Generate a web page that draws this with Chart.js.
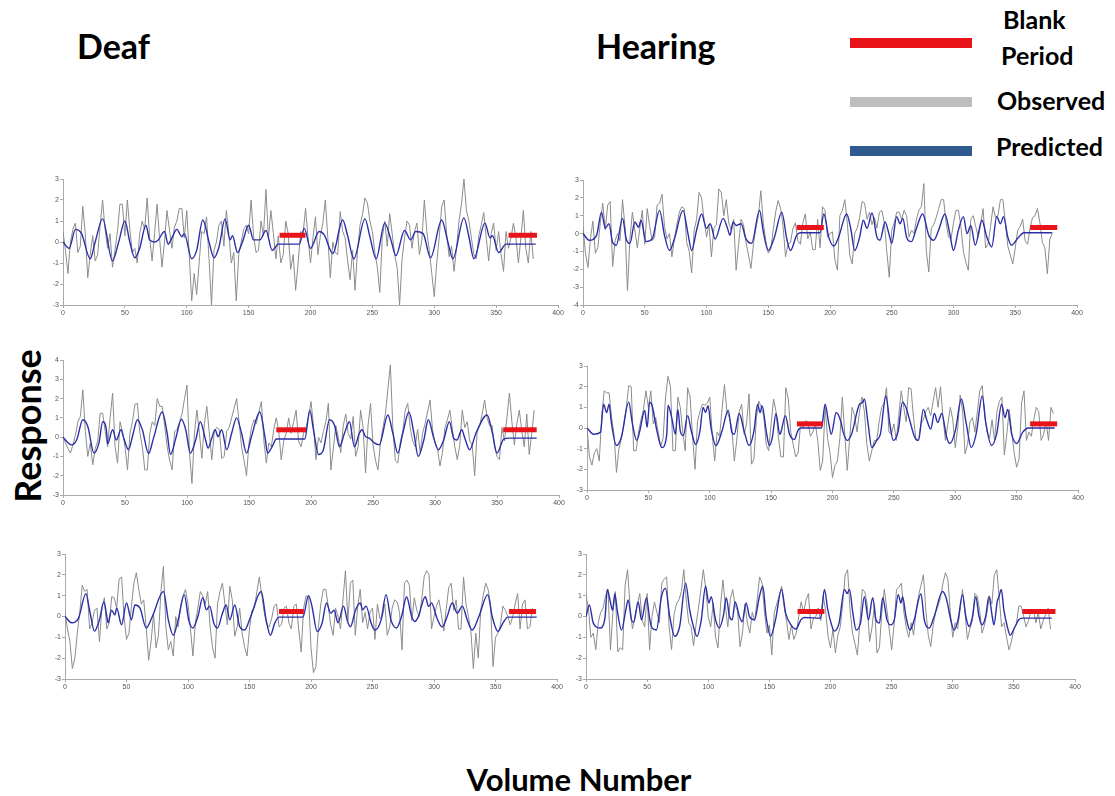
<!DOCTYPE html>
<html>
<head>
<meta charset="utf-8">
<script src="https://cdn.jsdelivr.net/npm/chart.js@4.4.1/dist/chart.umd.min.js"></script>
<style>
  body { margin: 0; background: #fff; width: 1115px; height: 796px; overflow: hidden; position: relative; font-family: Lato, "Open Sans", sans-serif; }
  .t { position: absolute; font-weight: bold; color: #000; white-space: nowrap; line-height: 1; }
  .sw { position: absolute; height: 10px; width: 122px; left: 850px; }
  canvas { position: absolute; }
</style>
</head>
<body>
<div class="t" style="left:77px;top:29px;font-size:34px">Deaf</div>
<div class="t" style="left:596px;top:29px;font-size:34px">Hearing</div>
<div class="t" style="left:-58px;top:408px;font-size:36px;transform:rotate(-90deg);width:170px;text-align:center">Response</div>
<div class="t" style="left:0;width:1158px;text-align:center;top:764px;font-size:31px">Volume Number</div>

<div class="sw" style="top:38px;background:#e8141a"></div>
<div class="sw" style="top:97px;background:#bdbdbd"></div>
<div class="sw" style="top:146px;background:#2f5a8e"></div>
<div class="t" style="left:1003px;top:7px;font-size:25px">Blank</div>
<div class="t" style="left:1001px;top:43px;font-size:25px">Period</div>
<div class="t" style="left:997px;top:88px;font-size:25px">Observed</div>
<div class="t" style="left:996px;top:134px;font-size:25px">Predicted</div>

<script>
// observed: values at volumes 0,4,...,380 and at 2,6,...,378
const volObs = Array.from({ length: 96 }, (_, i) => i * 4);
const volMid = Array.from({ length: 95 }, (_, i) => i * 4 + 2);
const xTicks = [0, 50, 100, 150, 200, 250, 300, 350, 400];

const obs1 = [0.5,-1.5,0.6,-0.5,1.7,-1.7,0.3,-0.6,2.0,-0.3,-1.2,0.5,1.8,2.0,-0.5,-1.0,1.0,2.1,-0.9,1.8,-1.2,1.5,-0.3,1.0,1.6,1.5,-2.8,-2.5,0.5,1.2,-3.0,0.0,1.0,1.5,-1.0,-2.8,0.0,0.8,2.0,-0.5,1.0,2.5,1.5,-0.8,-1.0,1.0,-1.3,-2.3,0.5,1.6,-1.0,1.2,0.3,2.0,-1.7,-0.5,1.45,0.2,-1.8,-2.3,0.8,2.1,1.0,-0.5,-2.4,1.0,1.35,-0.6,-3.0,0.2,0.8,0.5,-0.6,2.0,-0.4,-2.6,0.2,2.0,-0.7,-1.4,1.0,3.0,1.0,-0.6,0.3,1.4,-0.9,0.9,0.5,-1.4,-0.3,0.9,-1.0,1.5,-1.0,-0.8];
const obsMid1 = [-0.4,0.0,0.9,-0.2,0.4,-0.6,-0.9,0.8,0.6,0.4,-0.4,1.8,0.3,0.6,-0.3,0.4,0.6,0.2,0.4,0.2,0.0,0.6,0.7,1.6,0.2,-0.6,-1.5,-1.0,0.4,-0.8,-0.4,0.8,-0.2,0.4,-0.5,-0.6,0.6,0.4,0.3,-0.4,0.3,0.2,0.4,0.3,-0.6,0.4,-0.6,-1.0,0.4,0.2,0.2,-0.6,0.9,0.2,0.0,-0.6,0.5,-0.9,-0.4,-0.4,1.3,1.85,0.5,-1.2,0.2,-0.2,0.4,-1.2,-0.8,1.0,-0.3,0.9,0.1,0.5,-1.5,-1.0,1.7,0.4,-0.2,-0.3,1.8,1.5,0.2,-0.8,0.8,0.2,0.4,-0.4,-0.6,0.5,0.2,0.2,0.2,-0.3,0.5];
const obs2 = [0.4,-1.9,0.7,-0.8,1.7,1.6,-1.85,0.0,1.9,-3.2,1.2,-0.8,1.3,1.4,-0.4,1.6,2.2,-0.3,-1.3,0.5,1.5,-0.5,-2.2,0.8,2.0,-0.2,-1.3,0.5,2.3,1.9,0.2,-2.05,0.8,-0.5,-1.95,0.3,2.4,-0.4,-0.9,1.2,1.4,-1.3,-0.5,0.6,-0.6,1.1,0.1,-0.9,-0.8,1.3,0.0,-1.5,1.0,1.9,-1.2,0.0,0.9,1.7,1.2,0.9,1.2,0.6,-2.45,0.6,1.2,1.3,-0.2,0.0,1.3,2.8,-2.15,0.5,1.4,1.9,-0.2,0.6,1.3,-1.0,-2.05,1.0,-0.2,1.4,-0.6,1.5,1.0,1.9,-0.7,-1.7,0.2,0.8,-0.6,0.9,1.4,-0.5,-2.25,0.0];
const obsMid2 = [-1.1,-0.3,-1.1,0.6,0.2,1.8,-0.4,-0.4,0.4,-0.3,0.2,0.3,-0.6,0.4,-0.2,1.7,0.4,0.0,-0.3,1.2,1.4,-1.0,0.2,2.3,0.8,0.5,0.3,2.5,1.0,0.6,0.8,-0.6,0.5,-1.2,-0.6,1.0,0.6,-1.1,0.2,1.85,0.4,-0.6,0.3,-0.4,0.6,-0.3,-0.9,0.8,1.5,-0.2,0.1,-2.05,1.3,0.6,-1.7,0.3,1.8,0.8,0.5,0.3,1.3,-1.0,0.2,1.2,0.8,1.0,0.2,0.8,1.5,-1.0,0.3,0.9,1.9,0.6,-0.3,1.3,0.4,-1.6,0.8,0.4,0.5,-0.8,0.4,0.9,1.9,0.6,-1.2,-0.8,0.4,-0.4,0.3,1.0,0.6,-0.8,-0.3];
const obs3 = [0.0,-0.6,-0.4,0.8,2.45,-1.0,-1.43,-0.2,1.24,-0.5,2.28,-1.35,0.3,-1.7,0.8,1.75,-0.5,-1.7,0.8,2.0,1.6,-0.5,-1.7,0.4,1.2,2.7,-2.4,1.4,-1.1,1.6,-1.17,0.5,-1.1,0.3,1.0,2.0,-0.5,-2.0,0.5,0.7,1.85,-1.35,-0.5,1.0,-1.17,0.2,0.2,1.4,-0.5,0.5,1.85,-1.17,-0.3,0.8,-1.7,0.6,-0.8,1.2,-0.1,-1.0,1.4,-1.86,1.75,-1.2,-0.3,1.2,3.75,-1.2,-0.3,1.4,0.5,-0.5,-0.8,0.7,1.93,-0.3,-1.5,0.5,1.4,-0.5,-0.4,0.5,-0.2,-2.0,0.6,1.93,0.6,-0.5,-1.17,-0.2,2.28,-0.4,1.4,-0.5,-0.9,1.4];
const obsMid3 = [-0.3,-0.83,0.1,1.07,0.3,-0.3,-0.6,1.24,0.3,1.0,-0.5,0.8,-0.5,0.2,1.7,0.2,-1.7,0.2,0.6,1.6,0.6,-1.2,0.3,0.8,2.0,-0.8,0.2,0.2,0.7,0.2,0.3,0.4,-1.0,0.5,1.5,0.8,-1.2,-0.3,0.9,1.3,-0.2,-0.3,0.4,0.3,-0.2,1.0,0.8,-0.2,0.2,1.0,0.6,0.0,0.3,1.75,-0.6,0.0,0.6,0.2,1.07,-0.5,0.5,0.6,-0.4,-1.7,0.5,2.5,0.5,-1.35,0.3,1.75,-0.2,0.4,0.2,1.3,0.4,-0.6,-0.8,0.9,0.4,-1.17,1.4,0.8,-0.4,0.3,1.2,1.0,0.6,-1.0,0.5,1.0,0.8,0.7,0.3,1.2,0.2];
const obs4 = [0.0,-1.8,-1.0,0.6,1.7,0.5,-2.15,-0.5,1.0,2.0,-1.1,0.4,1.8,1.8,0.5,-0.9,1.5,2.0,-1.1,1.0,-1.1,1.5,-2.0,0.8,1.1,1.5,-1.6,-0.4,2.1,0.5,-1.6,0.8,-0.3,1.65,-1.5,1.3,0.6,-1.1,1.4,-0.5,-1.4,1.4,-0.8,-1.2,0.0,0.3,-0.2,-0.6,-1.6,-0.5,-2.4,-1.6,1.5,-2.05,1.0,-0.2,1.5,-0.8,-1.1,-0.6,1.0,1.95,-0.3,-0.6,1.8,0.3,1.9,-0.6,0.2,0.8,0.6,1.95,2.0,-0.6,1.0,-0.95,1.6,-1.25,0.3,-0.2,1.8,0.6,-0.5,-0.6,1.3,-1.3,0.9,-1.2,-1.5,1.8,-0.2,0.4,0.8,-0.3,-0.6,0.7];
const obsMid4 = [-1.4,-1.2,-1.6,1.8,1.7,-0.3,-1.0,0.2,2.05,-1.1,-0.2,0.9,1.0,0.2,-0.2,-0.5,2.5,-1.1,1.5,-0.2,1.95,-0.4,0.3,1.15,1.2,-0.3,-0.2,0.9,0.8,0.0,-0.6,1.15,0.2,-1.75,0.5,1.0,-0.8,0.2,0.8,-1.4,1.95,-0.2,-1.4,0.2,0.35,-0.4,0.2,-2.05,1.0,-1.2,-1.8,-0.5,-0.3,-0.5,0.6,0.8,0.8,-1.6,-0.6,0.3,1.2,-0.2,0.2,0.6,1.0,1.95,0.5,-0.6,0.4,1.0,1.3,1.0,0.5,0.2,0.4,0.0,0.8,-0.8,0.5,0.8,2.05,-0.2,0.4,0.8,1.5,-0.3,-0.2,-1.9,1.2,-0.6,-0.4,1.0,-0.6,0.3,1.0];
const obs5 = [0.2,-1.2,-2.0,0.2,1.2,-0.6,0.3,-1.2,0.9,-0.3,0.9,1.8,0.0,-0.8,1.6,1.3,0.8,-2.1,0.1,-0.9,2.4,-1.6,-1.9,-0.5,1.0,0.6,-1.9,0.4,1.0,1.2,-1.5,0.6,1.6,-0.4,0.8,-0.5,-0.8,-1.9,0.3,1.2,1.0,-0.4,-0.1,0.6,-0.4,0.5,-0.6,0.6,-1.7,1.0,-1.5,-2.4,0.6,1.3,-0.4,0.4,-0.6,2.2,1.6,-0.9,1.3,0.2,0.2,-1.1,-0.1,0.6,-0.5,0.8,0.2,1.6,1.5,0.9,0.0,1.9,2.0,0.0,0.8,-0.7,1.4,0.3,-0.6,1.9,0.0,-2.5,-2.0,1.0,1.3,-2.4,-0.8,0.5,0.0,0.0,1.1,0.6,-0.6,0.4];
const obsMid5 = [-0.6,-2.5,-0.8,1.5,1.3,-0.3,0.4,0.4,-0.6,0.95,0.4,1.9,-1.1,0.5,2.1,0.6,-0.5,-1.2,-1.5,1.2,-0.5,-1.2,0.0,0.5,1.3,-0.6,-0.3,1.2,0.6,-0.5,-2.0,1.2,0.6,1.45,-0.95,0.4,-1.45,-0.6,0.4,1.9,0.2,-0.5,0.5,-0.5,0.4,-0.3,0.5,-0.6,0.4,0.95,-2.7,-0.5,1.3,0.5,-0.9,0.0,0.8,-0.2,1.75,0.5,-0.3,-0.6,0.4,0.6,0.0,-0.9,0.4,0.7,-1.6,1.75,-0.2,0.3,0.8,2.2,-0.6,0.5,0.1,0.4,1.6,0.8,-0.6,0.6,-0.7,-0.8,0.3,1.6,0.6,-1.0,-0.4,0.3,-0.4,0.6,-0.6,0.8,-0.5];
const obs6 = [1.0,-1.0,-1.6,0.2,1.0,-1.6,1.2,-1.5,1.5,0.5,0.0,1.1,-0.5,-1.6,0.7,-0.3,1.8,-0.5,0.1,0.8,2.25,-0.3,-1.4,0.4,2.25,0.0,0.6,-1.5,1.75,-0.5,1.3,0.3,-0.8,-0.3,0.2,0.8,1.6,-0.8,-1.85,0.6,1.45,-0.2,-0.4,-0.8,0.7,0.8,-0.6,0.0,-0.2,0.3,-1.5,-1.75,-0.5,2.0,0.3,-1.3,-0.3,1.2,-1.2,0.6,-1.5,1.3,-0.6,-0.4,1.4,0.2,-1.0,-0.9,1.0,2.0,-0.9,-0.4,0.5,1.6,1.8,-1.0,-0.6,1.3,-1.1,-0.2,1.0,-0.8,0.2,0.6,2.25,-0.5,-1.0,-1.2,-0.4,0.5,-0.5,0.3,-0.3,-0.6,0.1,-0.6];
const obsMid6 = [0.4,-0.8,-0.3,0.4,1.3,0.2,-1.7,-1.6,2.25,-0.6,0.6,-0.2,1.1,0.0,0.2,1.6,1.9,-1.6,0.6,1.2,0.8,-0.5,-0.4,1.3,1.3,-0.5,-1.0,0.5,0.5,0.8,0.5,-1.45,0.6,-0.8,-0.2,1.9,0.2,-0.4,0.2,1.0,0.5,-1.1,-1.1,0.0,0.2,1.1,-0.1,0.4,1.0,-0.95,-0.6,-0.9,0.6,2.25,-0.8,-1.85,1.3,0.6,-0.5,-1.75,0.2,0.4,-1.6,1.3,1.6,-0.5,-0.3,0.3,1.5,0.3,-1.45,0.2,0.9,2.1,0.2,-0.3,0.3,0.2,-0.6,1.1,0.3,-0.4,1.0,2.0,0.9,-0.3,-1.6,-0.6,0.5,0.0,-0.2,0.3,0.2,-0.2,0.4];

// predicted response, [volume, value] read at turning points
const pred1 = [[0,0],[5,-0.3],[10,0.6],[15,0.4],[22,-0.8],[26,0],[32,1.1],[40,-0.9],[45,0],[50,1.0],[54,0],[58,-0.75],[62,-0.3],[67,0.8],[70,0.1],[74,0],[77,0.1],[82,0.5],[85,-0.1],[88,0.2],[92,0.6],[96,0.25],[98,0.4],[104,-0.8],[108,-0.4],[113,1.05],[118,0],[122,-0.75],[126,-0.25],[131,1.1],[135,0.1],[137,0.3],[141,-0.5],[145,0],[150,0.8],[154,0.1],[159,0.1],[164,0.55],[169,-0.4],[174,-0.1],[191,-0.1],[195,0.65],[200,-0.3],[207,0.5],[211,0.35],[218,-0.55],[226,1.05],[230,0.3],[235,-0.8],[244,1.1],[248,0.25],[253,-0.8],[260,0.9],[265,0.1],[269,-0.65],[276,0.55],[281,0.1],[285,0.5],[291,0.4],[297,-0.75],[306,1.05],[311,0],[315,-0.8],[324,1.15],[328,0.25],[332,-0.8],[341,0.9],[345,0.2],[347,0.3],[352,-0.5],[358,-0.1],[382,-0.1]];
const pred2 = [[0,0],[5,-0.37],[11,-0.1],[15,1.2],[18,0.3],[21,0.55],[24,-0.5],[27,-0.65],[32,0.85],[35,-0.3],[38,-0.55],[42,0.65],[45,0.35],[47,0.75],[51,-0.45],[56,-0.3],[62,1.3],[66,-0.1],[70,-0.95],[74,-0.3],[81,1.3],[85,0],[88,-0.95],[92,0.2],[96,1.1],[100,0.3],[103,0.55],[107,-0.3],[113.5,0.85],[117,0.3],[119,-0.1],[121.6,0.65],[124,0.45],[128,0.55],[132,-0.3],[136.5,-0.55],[143,1.3],[146,0.1],[150,-0.95],[155,-0.2],[161,1.2],[165,-0.3],[168,-0.95],[173,-0.1],[176,0.05],[192,0.05],[195,1.1],[199,-0.2],[203,-0.7],[207,-0.2],[213.5,1.1],[217,0.2],[220,-0.95],[224,-0.2],[227,0.75],[230,0.3],[234,1.15],[238,-0.2],[240.5,-0.37],[244.6,0.65],[248,-0.1],[250,-0.55],[254,0.95],[256.7,0.55],[259,0.85],[262,-0.2],[266,-0.45],[270,0.3],[275,1.1],[280,-0.1],[284,-0.37],[288,0.2],[293,1.1],[297,0],[300,-0.95],[304,0.2],[308,0.95],[311,0],[314,0.45],[317.6,-0.65],[323,0.75],[327,-0.2],[331,-0.75],[335,0.95],[338,0.55],[340.5,0.95],[344,-0.2],[347,-0.65],[352.7,-0.2],[357,0.05],[380,0.05]];
const pred3 = [[0,0],[6.7,-0.4],[11,-0.15],[16,0.9],[20,0.55],[25,-0.83],[29,-0.3],[32,0.8],[35,0.38],[36,-0.35],[40,0.38],[43,-0.15],[46.7,0.38],[49,-0.05],[52.8,-0.65],[56,0.03],[60,0.9],[64,0.38],[69,-0.85],[73,-0.05],[80,1.3],[84,0.2],[86.7,-0.9],[91,-0.05],[95.5,0.93],[99,0.38],[102.7,-0.83],[107,-0.15],[110.7,0.8],[115,-0.15],[117,-0.57],[120,-0.05],[122.7,0.38],[125,0.03],[128,0.38],[132,-0.65],[136,0.2],[140,1.0],[144,0.2],[148,-0.83],[152,0.03],[158.7,1.3],[163,-0.05],[165,-0.83],[169,-0.45],[172,-0.1],[195,-0.1],[199,1.4],[202,0.38],[206,-0.9],[210,-0.65],[215,0.9],[219,0.6],[223,-0.5],[227,0.2],[231,0.8],[235,-0.5],[239,0.2],[241,0.38],[244,0.03],[247,-0.05],[251,-0.3],[255,-0.4],[262,1.15],[266,0.2],[270,-0.83],[274,0.2],[279,1.3],[283,0.2],[286.5,-1.0],[291,-0.15],[294.6,0.9],[299,-0.05],[302.7,-0.65],[307,-0.15],[311.6,0.8],[315,-0.05],[317.6,-0.15],[321.6,0.38],[324,-0.05],[328,-0.65],[333,0.2],[342,1.15],[346,0.3],[350,-0.83],[355.4,-0.1],[360,-0.05],[382,-0.05]];
const pred4 = [[0,0],[5.4,-0.3],[11,-0.2],[13.5,1.15],[16,0.75],[18,1.15],[20,0.2],[24,-0.85],[28,-0.45],[34,1.25],[37,0.2],[40.5,-0.6],[43,-0.15],[47,0.85],[49,0.03],[51,1.25],[53,1.1],[57,-0.15],[61,-0.95],[65,-0.3],[66,1.1],[69,0.5],[72,-0.3],[74,0.9],[76,-0.15],[78.5,-0.37],[82,0.6],[85,-0.15],[88.6,-0.8],[92,-0.15],[94.6,1.0],[96.5,0.75],[98.6,1.08],[101,0.03],[105,-0.85],[110,-0.15],[115,0.85],[118,-0.2],[120,-0.3],[124,0.7],[128,-0.15],[132,-0.85],[136,-0.15],[139,1.15],[141,0.75],[142.7,1.08],[146,-0.15],[148.6,-0.85],[151,-0.45],[154,0.7],[157,-0.3],[158,-0.2],[161.6,0.6],[165,-0.3],[169,-0.55],[171.6,-0.15],[174,0],[191,0],[194,1.15],[197,0.2],[199,-0.3],[203,0.75],[207,0.27],[208.7,-0.2],[212,-0.6],[215.5,-0.3],[222,1.15],[224.7,1.25],[226,1.4],[229,0.2],[232,-0.95],[236,-0.6],[239,-0.3],[243.5,1.55],[246.7,0.2],[249.5,-0.6],[253.5,-0.15],[257,1.25],[259.8,1.0],[263,0.35],[267,-0.45],[270,-0.6],[274,0.9],[277,0.35],[280,-0.05],[283,0.7],[285.7,0.27],[289,0.7],[293,-0.45],[295.6,-0.75],[300,-0.15],[305,1.4],[309,0.2],[313,-0.95],[317,-0.3],[322,1.55],[325,0.2],[329.6,-0.85],[333.7,-0.3],[337.8,1.15],[340.5,0.5],[342.7,0.9],[346,-0.3],[350,-0.75],[355,-0.2],[359.5,0],[381,0]];
const pred5 = [[0,0],[5.4,-0.3],[11,-0.08],[17,1.1],[20,0.3],[24,-0.7],[28,-0.16],[31.6,0.7],[33.8,0.08],[35,-0.3],[37.8,0.3],[40.5,0.08],[42,0.4],[46,-0.4],[50,0.65],[54,-0.16],[56.8,0.55],[61,0.4],[66,-0.55],[71,0],[80,1.2],[84,-0.16],[88,-0.9],[92,-0.16],[97,1.05],[100.5,-0.16],[104,-0.55],[108,0],[112,0.9],[115,0.32],[117.6,0.5],[121,-0.32],[124,-0.55],[128,0.16],[131,0.55],[134,-0.16],[138,0.55],[142,-0.48],[146,-0.65],[151,0],[159.5,1.2],[163.5,-0.16],[167,-0.9],[170.5,-0.32],[174,-0.03],[193.4,-0.03],[198,1.0],[200.8,0.48],[205,-0.72],[209,-0.32],[212.6,0.65],[216,0.16],[218.7,0.3],[222,-0.3],[226.4,0.5],[229.7,-0.24],[232,-0.5],[236.3,0.32],[240,0.65],[242,0.32],[244.8,0.5],[248.9,-0.32],[252,-0.65],[257,-0.16],[261,1.05],[265,-0.16],[269.5,-0.55],[273.6,0],[277.7,0.95],[281.8,0],[284.5,-0.24],[287.3,0],[292.9,0.95],[295.6,0.48],[298,0.65],[302.4,-0.08],[306.6,-0.5],[310.7,0],[314.8,0.65],[318.9,0.16],[323,0.5],[327,-0.16],[331,-0.65],[336.5,0],[343.7,1.05],[347.3,0],[352,-0.72],[356,-0.32],[360,-0.03],[383.5,-0.03]];
const pred6 = [[0,0],[2.7,0.55],[6,-0.32],[11.4,-0.55],[15.5,-0.08],[17.4,1.3],[19.6,0.8],[21.7,0.3],[23.6,1.1],[25.5,0.32],[29,-0.65],[32.6,0.32],[34.5,0.8],[37.2,-0.16],[39,-0.28],[42.7,0.7],[45.4,-0.16],[49.5,0.9],[52.2,-0.16],[54,-0.55],[57.6,-0.65],[61.7,0.95],[65,1.35],[68.5,0],[72.6,-0.95],[76.6,-0.48],[81.5,1.6],[84.8,0.32],[87.5,-0.4],[90.8,-0.95],[94.3,-0.16],[97.8,1.45],[100.5,0.65],[102.4,0.95],[106,-0.16],[109,-0.55],[112.5,0.08],[114.7,0.9],[117.4,0],[119.6,-0.16],[122,0.7],[125.5,0],[127.7,-0.25],[131,0.65],[133.7,0],[137.8,-0.16],[141.8,0.95],[144.6,1.45],[147.3,0],[151,-0.95],[155,-0.16],[160,1.3],[163.3,0.16],[167.7,-0.4],[171.7,-0.6],[175.8,-0.16],[178.5,-0.05],[192,-0.08],[195,1.3],[197.8,0.32],[200.5,-0.32],[203,-0.7],[207,-0.32],[211.4,1.3],[213.6,1.1],[215.5,1.3],[218.3,0.16],[221,-0.65],[224.5,-0.32],[227.7,0.95],[231,-0.16],[234.5,0.9],[237.2,-0.16],[240,-0.32],[242.7,0.9],[246.2,-0.16],[249,-0.4],[252.2,-0.16],[255.4,1.05],[257.6,0.65],[259,0.95],[261.7,0],[265,-0.65],[268.5,-0.16],[274,1.1],[276.7,-0.16],[280.7,-0.55],[284.8,0],[291.6,1.2],[294.3,0.95],[295.6,0.65],[298.4,-0.16],[301,-0.65],[304.3,-0.16],[308,1.05],[310.7,0],[313.4,-0.48],[316.2,0],[318.8,0.95],[321.5,0],[324,-0.4],[326.9,0],[329.6,0.95],[332.3,0],[333.7,-0.4],[336.4,0.72],[337.8,0.95],[339.7,1.3],[341.8,0.32],[344.6,-0.48],[347,-0.9],[351,-0.48],[354,-0.16],[356.8,-0.08],[381,-0.08]];

// blank periods: [start, end, level]
const blank1 = [[175, 196, 0.32], [360, 383, 0.32]];
const blank2 = [[173, 195, 0.34], [362, 384, 0.34]];
const blank3 = [[172, 196, 0.38], [355, 382, 0.38]];
const blank4 = [[171, 192, 0.2], [361, 383, 0.2]];
const blank5 = [[174, 194, 0.24], [361, 383, 0.24]];
const blank6 = [[173, 195, 0.24], [357, 384, 0.24]];

const yRanges = [[-3, 3], [-4, 3], [-3, 4], [-3, 3], [-3, 3], [-3, 3]];

// plot area in page pixels: left, top, right, bottom
const areas = [
  [63, 179, 558, 305],
  [583, 180, 1077, 305],
  [63, 360, 559, 495],
  [587, 366, 1078, 490],
  [65, 554, 557, 679],
  [586, 554, 1075, 679]
];

const Y_W = 22, X_H = 16, PAD = 8;

const panels = [
  [obs1, obsMid1, pred1, blank1], [obs2, obsMid2, pred2, blank2], [obs3, obsMid3, pred3, blank3],
  [obs4, obsMid4, pred4, blank4], [obs5, obsMid5, pred5, blank5], [obs6, obsMid6, pred6, blank6]
];

panels.forEach(([obs, mid, pred, blank], i) => {
  const [l, t, r, b] = areas[i];
  const cv = document.createElement("canvas");
  const w = r - l + Y_W + PAD, h = b - t + X_H + PAD;
  cv.width = w; cv.height = h;
  cv.style.left = (l - Y_W) + "px";
  cv.style.top = (t - PAD) + "px";
  cv.style.width = w + "px"; cv.style.height = h + "px";
  document.body.appendChild(cv);

  const obsPts = obs.map((v, k) => ({ x: volObs[k], y: v }))
    .concat(mid.map((v, k) => ({ x: volMid[k], y: v })))
    .sort((a, b) => a.x - b.x);

  const datasets = [{
    data: obsPts,
    borderColor: "#8c8c8c", borderWidth: 1, pointRadius: 0, tension: 0, order: 3
  }, {
    data: pred.map(p => ({ x: p[0], y: p[1] })),
    borderColor: "#2b2fa6", borderWidth: 1.4, pointRadius: 0,
    cubicInterpolationMode: "monotone", order: 2
  }];
  blank.forEach(bp => datasets.push({
    data: [{ x: bp[0], y: bp[2] }, { x: bp[1], y: bp[2] }],
    borderColor: "#e8141a", borderWidth: 5, pointRadius: 0, borderCapStyle: "butt", order: 1
  }));

  const tickFont = { size: 7, family: "Arial, 'Liberation Sans', sans-serif" };
  new Chart(cv, {
    type: "line",
    data: { datasets },
    options: {
      responsive: false,
      animation: false,
      events: [],
      layout: { padding: { left: 0, right: PAD, top: PAD, bottom: 0 } },
      plugins: { legend: { display: false }, tooltip: { enabled: false } },
      scales: {
        x: {
          type: "linear", min: 0, max: 400,
          afterBuildTicks: s => { s.ticks = xTicks.map(v => ({ value: v })); },
          afterFit: s => { s.height = X_H; },
          ticks: { font: tickFont, color: "#555", padding: 1, maxRotation: 0 },
          grid: { drawOnChartArea: false, tickLength: 3, color: "#aaa" },
          border: { color: "#aaa" }
        },
        y: {
          min: yRanges[i][0], max: yRanges[i][1],
          afterFit: s => { s.width = Y_W; },
          ticks: { stepSize: 1, font: tickFont, color: "#555", padding: 1 },
          grid: { drawOnChartArea: false, tickLength: 3, color: "#aaa" },
          border: { color: "#aaa" }
        }
      }
    }
  });
});
</script>
</body>
</html>
